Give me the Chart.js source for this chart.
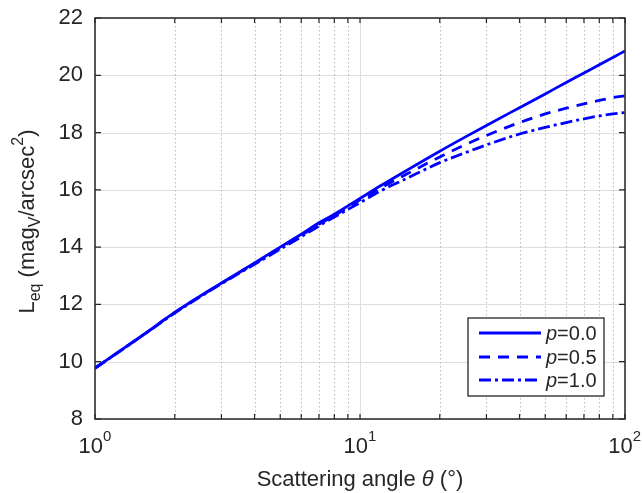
<!DOCTYPE html>
<html><head><meta charset="utf-8">
<script src="https://cdn.jsdelivr.net/npm/chart.js@4/dist/chart.umd.min.js"></script>
<style>html,body{margin:0;padding:0;background:#fff}#wrap{width:642px;height:493px}</style>
</head><body><div id="wrap"><canvas id="c" width="642" height="493"></canvas></div>
<script>
// ---- data ----
const angles  = [1, 1.5, 2, 3, 4, 5, 6, 7, 8, 10, 12, 15, 20, 25, 30, 40, 50, 60, 70, 80, 90, 100];
const leqP00  = [9.78, 10.9, 11.72, 12.75, 13.45, 14.0, 14.45, 14.85, 15.15, 15.7, 16.15, 16.68, 17.35, 17.85, 18.25, 18.87, 19.35, 19.75, 20.08, 20.37, 20.62, 20.85];
const leqP05  = [9.78, 10.9, 11.72, 12.74, 13.43, 13.97, 14.41, 14.8, 15.1, 15.65, 16.07, 16.55, 17.15, 17.58, 17.9, 18.35, 18.65, 18.85, 19.0, 19.12, 19.22, 19.28];
const leqP10  = [9.77, 10.89, 11.7, 12.72, 13.4, 13.93, 14.36, 14.74, 15.05, 15.55, 15.97, 16.4, 16.95, 17.3, 17.57, 17.95, 18.18, 18.35, 18.48, 18.58, 18.65, 18.7];
const pValues = ['0.0', '0.5', '1.0'];
const yTicks  = [8, 10, 12, 14, 16, 18, 20, 22];
const xMajorTicks = [1, 10, 100];
const xExponents  = ['0', '1', '2'];
const xMinorTicks = [2, 3, 4, 5, 6, 7, 8, 9, 20, 30, 40, 50, 60, 70, 80, 90];

const FONT = '"Liberation Sans", Arial, sans-serif';
const INK = '#262626';
const BLUE = '#0000ff';
const dashes = [[], [11, 8], [12, 4, 3, 4]];
const seriesData = [leqP00, leqP05, leqP10];

function pts(arr) { return angles.map((a, i) => ({ x: a, y: arr[i] })); }

const decor = {
  id: 'decor',
  beforeDatasetsDraw(chart) {
    const { ctx, chartArea: a, scales: { x, y } } = chart;
    ctx.save();
    ctx.lineWidth = 1;
    ctx.strokeStyle = '#dedede';
    yTicks.forEach(v => {
      const py = Math.round(y.getPixelForValue(v)) + 0.5;
      ctx.beginPath(); ctx.moveTo(a.left, py); ctx.lineTo(a.right, py); ctx.stroke();
    });
    xMajorTicks.forEach(v => {
      const px = Math.round(x.getPixelForValue(v)) + 0.5;
      ctx.beginPath(); ctx.moveTo(px, a.top); ctx.lineTo(px, a.bottom); ctx.stroke();
    });
    ctx.strokeStyle = '#b8b8b8';
    ctx.setLineDash([1.5, 2.5]);
    xMinorTicks.forEach(v => {
      const px = Math.round(x.getPixelForValue(v)) + 0.5;
      ctx.beginPath(); ctx.moveTo(px, a.top); ctx.lineTo(px, a.bottom); ctx.stroke();
    });
    ctx.restore();
  },
  afterDatasetsDraw(chart) {
    const { ctx, chartArea: a, scales: { x, y } } = chart;
    ctx.save();
    // box
    ctx.strokeStyle = INK; ctx.lineWidth = 1.5; ctx.setLineDash([]);
    ctx.strokeRect(a.left, a.top, a.right - a.left, a.bottom - a.top);
    // ticks
    ctx.lineWidth = 1.2;
    const tl = 6;
    yTicks.forEach(v => {
      const py = y.getPixelForValue(v);
      ctx.beginPath();
      ctx.moveTo(a.left, py); ctx.lineTo(a.left + tl, py);
      ctx.moveTo(a.right, py); ctx.lineTo(a.right - tl, py);
      ctx.stroke();
    });
    xMajorTicks.concat(xMinorTicks).forEach(v => {
      const px = x.getPixelForValue(v);
      ctx.beginPath();
      ctx.moveTo(px, a.bottom); ctx.lineTo(px, a.bottom - 5);
      ctx.moveTo(px, a.top); ctx.lineTo(px, a.top + 5);
      ctx.stroke();
    });
    // x tick labels 10^n
    ctx.fillStyle = INK;
    ctx.textBaseline = 'alphabetic';
    ctx.textAlign = 'left';
    xMajorTicks.forEach((v, i) => {
      const px = x.getPixelForValue(v);
      ctx.font = '22px ' + FONT;
      const w1 = ctx.measureText('10').width;
      ctx.font = '15px ' + FONT;
      const w2 = ctx.measureText(xExponents[i]).width;
      let sx = px - (w1 + w2) / 2;
      if (sx + w1 + w2 > 641) sx = 641 - w1 - w2;
      ctx.font = '22px ' + FONT;
      ctx.fillText('10', sx, 453);
      ctx.font = '15px ' + FONT;
      ctx.fillText(xExponents[i], sx + w1, 441);
    });
    // x title
    const xt = [['Scattering angle ', 'normal'], ['\u03B8', 'italic'], [' (\u00B0)', 'normal']];
    let tw = 0;
    xt.forEach(([s, st]) => { ctx.font = st + ' 22px ' + FONT; tw += ctx.measureText(s).width; });
    let cx = (a.left + a.right) / 2 - tw / 2;
    xt.forEach(([s, st]) => { ctx.font = st + ' 22px ' + FONT; ctx.fillText(s, cx, 486); cx += ctx.measureText(s).width; });
    // y title (rotated)
    const yt = [['L', 0], ['eq', 1], [' (mag', 0], ['V', 1], ['/arcsec', 0], ['2', 2], [')', 0]];
    const setF = k => { ctx.font = (k === 0 ? '22px ' : '16px ') + FONT; };
    let yw = 0;
    yt.forEach(([s, k]) => { setF(k); yw += ctx.measureText(s).width; });
    ctx.translate(34, (a.top + a.bottom) / 2 + 3);
    ctx.rotate(-Math.PI / 2);
    let ox = -yw / 2;
    yt.forEach(([s, k]) => {
      setF(k);
      const dy = k === 1 ? 6 : (k === 2 ? -11 : 0);
      ctx.fillText(s, ox, dy);
      ox += ctx.measureText(s).width;
    });
    ctx.restore();
    // legend
    ctx.save();
    const lx = 468, ly = 318, lw = 136, lh = 78;
    ctx.fillStyle = '#ffffff';
    ctx.fillRect(lx, ly, lw, lh);
    ctx.strokeStyle = INK; ctx.lineWidth = 1.3;
    ctx.strokeRect(lx, ly, lw, lh);
    const rows = [333, 357, 380];
    chart.data.datasets.forEach((ds, i) => {
      ctx.strokeStyle = ds.borderColor; ctx.lineWidth = ds.borderWidth;
      ctx.setLineDash(ds.borderDash);
      ctx.beginPath(); ctx.moveTo(479, rows[i]); ctx.lineTo(541, rows[i]); ctx.stroke();
      ctx.setLineDash([]);
      ctx.fillStyle = INK; ctx.textBaseline = 'middle'; ctx.textAlign = 'left';
      ctx.font = 'italic 20px ' + FONT;
      ctx.fillText('p', 546, rows[i] + 1);
      const pw = ctx.measureText('p').width;
      ctx.font = '20px ' + FONT;
      ctx.fillText('=' + pValues[i], 546 + pw, rows[i] + 1);
    });
    ctx.restore();
  }
};

new Chart(document.getElementById('c'), {
  type: 'line',
  data: {
    datasets: seriesData.map((arr, i) => ({
      label: 'p=' + pValues[i],
      data: pts(arr),
      borderColor: BLUE,
      borderWidth: 2.8,
      borderDash: dashes[i],
      pointRadius: 0,
      fill: false,
      cubicInterpolationMode: 'monotone'
    }))
  },
  options: {
    responsive: false,
    animation: false,
    devicePixelRatio: 1,
    layout: { padding: { left: 0, top: 18, right: 17, bottom: 0 } },
    plugins: { legend: { display: false }, tooltip: { enabled: false } },
    scales: {
      x: {
        type: 'logarithmic', min: 1, max: 100,
        grid: { display: false }, border: { display: false },
        ticks: { display: false },
        afterFit(s) { s.height = 74; s.paddingLeft = 0; s.paddingRight = 0; }
      },
      y: {
        type: 'linear', min: 8, max: 22,
        grid: { display: false }, border: { display: false },
        ticks: { stepSize: 2, padding: 4, color: INK, font: { family: FONT, size: 22 } },
        afterBuildTicks(s) { s.ticks = yTicks.map(v => ({ value: v })); },
        afterFit(s) { s.width = 95; s.paddingTop = 0; s.paddingBottom = 0; }
      }
    }
  },
  plugins: [decor]
});
</script>
</body></html>
